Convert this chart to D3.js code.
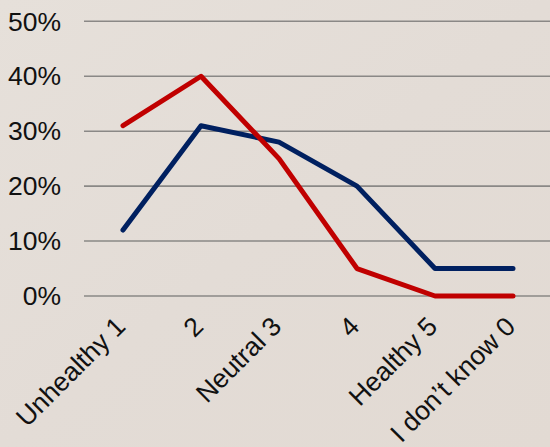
<!DOCTYPE html>
<html>
<head>
<meta charset="utf-8">
<script src="https://cdn.jsdelivr.net/npm/d3@7"></script>
<style>
  html, body { margin: 0; padding: 0; background: #e4ddd7; }
  svg { display: block; }
</style>
</head>
<body>
<script>
const categories = ["Unhealthy 1", "2", "Neutral 3", "4", "Healthy 5", "I don\u2019t know 0"];
const redSeries = [31, 40, 25, 5, 0, 0];
const blueSeries = [12, 31, 28, 20, 5, 5];
const yTicks = [0, 10, 20, 30, 40, 50];

const W = 550, H = 447;
const svg = d3.select("body").append("svg").attr("width", W).attr("height", H);

const defs = svg.append("defs");
const grad = defs.append("linearGradient").attr("id", "bg").attr("x1", "0").attr("y1", "0").attr("x2", "1").attr("y2", "1");
grad.append("stop").attr("offset", "0%").attr("stop-color", "#e6e0da");
grad.append("stop").attr("offset", "50%").attr("stop-color", "#e3dcd6");
grad.append("stop").attr("offset", "100%").attr("stop-color", "#e2dad3");
svg.append("rect").attr("width", W).attr("height", H).attr("fill", "url(#bg)");

const x = d3.scaleBand().domain(categories).range([84, 552]).padding(0);
const y = d3.scaleLinear().domain([0, 50]).range([296, 21.3]);
const cx = d => x(d) + x.bandwidth() / 2;

svg.append("g").selectAll("line").data(yTicks).join("line")
  .attr("x1", 84).attr("x2", W)
  .attr("y1", d => y(d)).attr("y2", d => y(d))
  .attr("stroke", "#8a8886").attr("stroke-width", 1.6);

const font = "'Liberation Sans', Arial, sans-serif";
const fs = 26.5;

svg.append("g").selectAll("text").data(yTicks).join("text")
  .attr("x", 61).attr("y", d => y(d) + 9.2)
  .attr("text-anchor", "end")
  .attr("font-family", font).attr("font-size", fs).attr("fill", "#111")
  .text(d => d + "%");

svg.append("g").selectAll("text").data(categories).join("text")
  .attr("transform", d => `translate(${cx(d) + 4},${328}) rotate(-45)`)
  .attr("text-anchor", "end")
  .attr("font-family", font).attr("font-size", fs).attr("fill", "#111")
  .text(d => d);

const line = d3.line().x((d, i) => cx(categories[i])).y(d => y(d));

svg.append("path").datum(blueSeries).attr("d", line)
  .attr("fill", "none").attr("stroke", "#002060").attr("stroke-width", 5)
  .attr("stroke-linejoin", "round").attr("stroke-linecap", "round");

svg.append("path").datum(redSeries).attr("d", line)
  .attr("fill", "none").attr("stroke", "#c00000").attr("stroke-width", 5)
  .attr("stroke-linejoin", "round").attr("stroke-linecap", "round");
</script>
</body>
</html>
